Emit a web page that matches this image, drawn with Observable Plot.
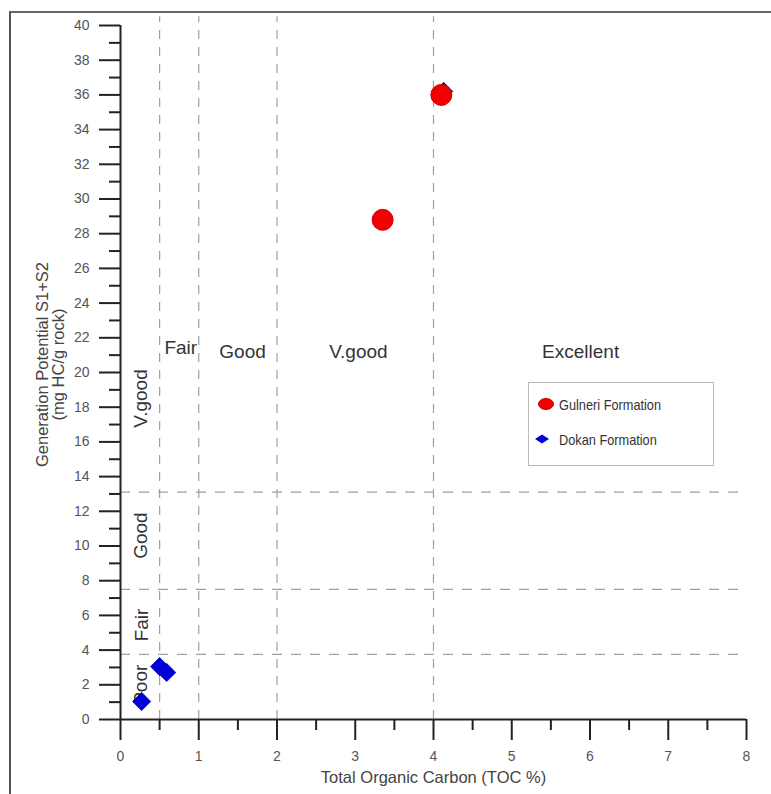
<!DOCTYPE html>
<html>
<head>
<meta charset="utf-8">
<script src="https://cdn.jsdelivr.net/npm/d3@7"></script>
<script src="https://cdn.jsdelivr.net/npm/@observablehq/plot@0.6"></script>
<style>
  html, body { margin: 0; padding: 0; background: #fff; }
  #wrap { position: relative; width: 771px; height: 794px; overflow: hidden; font-family: "Liberation Sans", Arial, sans-serif; }
  #frame { position: absolute; left: 9px; top: 11px; right: -10px; bottom: -10px; border-left: 2px solid #555; border-top: 2px solid #666; pointer-events: none; }
  #legend { position: absolute; left: 528px; top: 382px; width: 184px; height: 82px; border: 1px solid #bbb; background: #fff; }
  .item { position: absolute; left: 0; height: 20px; display: flex; align-items: center; }
  .lab { font-size: 15px; color: #333; transform: scaleX(0.85); transform-origin: left center; white-space: nowrap; }
</style>
</head>
<body>
<div id="wrap"></div>
<script>
// ---- data ----
const gulneriToc = [4.10, 3.35];
const gulneriS1S2 = [36.0, 28.8];
const dokanToc = [4.13, 0.50, 0.59, 0.27];
const dokanS1S2 = [36.2, 3.05, 2.71, 1.04];

const tocBounds = [0.5, 1, 2, 4];
const s1s2Bounds = [3.75, 7.5, 13.1];

const tocClassLabels = ["Fair", "Good", "V.good", "Excellent"];
const tocClassX = [0.77, 1.56, 3.04, 5.88];
const tocClassY = [21.4, 21.2, 21.2, 21.2];

const s1s2ClassLabels = ["V.good", "Good", "Fair", "Poor"];
const s1s2ClassX = [0.26, 0.26, 0.27, 0.26];
const s1s2ClassY = [18.5, 10.6, 5.45, 2.0];

const xMajor = [0, 1, 2, 3, 4, 5, 6, 7, 8];
const xMinor = [0.5, 1.5, 2.5, 3.5, 4.5, 5.5, 6.5, 7.5];
const yMajor = d3.range(0, 41, 2);
const yMinor = d3.range(1, 40, 2);

const xTitle = "Total Organic Carbon (TOC %)";
const yTitle = "Generation Potential S1+S2\n(mg HC/g rock)";
const seriesNames = ["Gulneri Formation", "Dokan Formation"];

const gulneri = gulneriToc.map((x, i) => ({x, y: gulneriS1S2[i]}));
const dokan = dokanToc.map((x, i) => ({x, y: dokanS1S2[i]}));

const dashCol = "#a0a0a0";
const axisCol = "#222";

const chart = Plot.plot({
  width: 771,
  height: 794,
  marginLeft: 120,
  marginRight: 25,
  marginTop: 25,
  marginBottom: 75,
  x: {domain: [0, 8]},
  y: {domain: [0, 40]},
  style: {fontFamily: "'Liberation Sans', Arial, sans-serif", background: "transparent", overflow: "visible"},
  marks: [
    Plot.ruleX(tocBounds, {x: d => d, y1: 0, y2: 40.5, stroke: dashCol, strokeWidth: 1.2, strokeDasharray: "9,8"}),
    Plot.ruleY(s1s2Bounds, {y: d => d, x1: 0, x2: 8, stroke: dashCol, strokeWidth: 1.2, strokeDasharray: "10,9"}),
    // y axis ticks
    Plot.axisY(yMajor, {tickSize: 21, tickFormat: () => "", label: null, stroke: axisCol, strokeWidth: 2, strokeOpacity: 1}),
    Plot.axisY(yMinor, {tickSize: 11, tickFormat: () => "", label: null, stroke: axisCol, strokeWidth: 2, strokeOpacity: 1}),
    Plot.axisY(yMajor, {tickSize: 0, tickPadding: 31, label: null, fontSize: 14, fill: "#555"}),
    // x axis ticks
    Plot.axisX(xMajor, {tickSize: 21, tickFormat: () => "", label: null, stroke: axisCol, strokeWidth: 2, strokeOpacity: 1}),
    Plot.axisX(xMinor, {tickSize: 11, tickFormat: () => "", label: null, stroke: axisCol, strokeWidth: 2, strokeOpacity: 1}),
    Plot.axisX(xMajor, {tickSize: 0, tickPadding: 32, label: null, fontSize: 14, fill: "#555"}),
    // axis lines
    Plot.ruleX([0], {y1: 0, y2: 40, stroke: axisCol, strokeWidth: 2}),
    Plot.ruleY([0], {x1: 0, x2: 8, stroke: axisCol, strokeWidth: 2}),
    // titles
    Plot.text([yTitle], {frameAnchor: "left", dx: -70, dy: -8, rotate: -90, textAnchor: "middle", lineAnchor: "middle", lineHeight: 1.0, fontSize: 16.5, fill: "#444"}),
    Plot.text([xTitle], {frameAnchor: "bottom", dy: 58, textAnchor: "middle", lineAnchor: "middle", fontSize: 16.5, fill: "#444"}),
    // class labels
    Plot.text(tocClassLabels, {x: (d, i) => tocClassX[i], y: (d, i) => tocClassY[i], text: d => d, fontSize: 19, fill: "#333"}),
    Plot.text(s1s2ClassLabels, {x: (d, i) => s1s2ClassX[i], y: (d, i) => s1s2ClassY[i], text: d => d, rotate: -90, fontSize: 19, fill: "#333"}),
    // points
    Plot.dot(dokan, {x: "x", y: "y", symbol: "diamond2", r: 8.2, fill: "#0000dd", stroke: "#0000aa", strokeWidth: 0.8}),
    Plot.dot(gulneri, {x: "x", y: "y", r: 10.5, fill: "#f20000", stroke: "#cc0000", strokeWidth: 1})
  ]
});

const wrap = document.getElementById("wrap");
chart.style.position = "absolute";
chart.style.left = "0px";
chart.style.top = "0px";
wrap.appendChild(chart);

const frame = document.createElement("div");
frame.id = "frame";
wrap.appendChild(frame);

const legend = document.createElement("div");
legend.id = "legend";
legend.innerHTML = `
  <div class="item" style="top:11px;">
    <svg width="30" height="20"><ellipse cx="17" cy="10" rx="7.5" ry="5.5" fill="#f20000" stroke="#cc0000"/></svg>
    <span class="lab">${seriesNames[0]}</span>
  </div>
  <div class="item" style="top:46px;">
    <svg width="30" height="20"><path d="M6,10 L13,5.5 L20,10 L13,14.5 Z" fill="#0000dd"/></svg>
    <span class="lab">${seriesNames[1]}</span>
  </div>`;
wrap.appendChild(legend);
</script>
</body>
</html>
